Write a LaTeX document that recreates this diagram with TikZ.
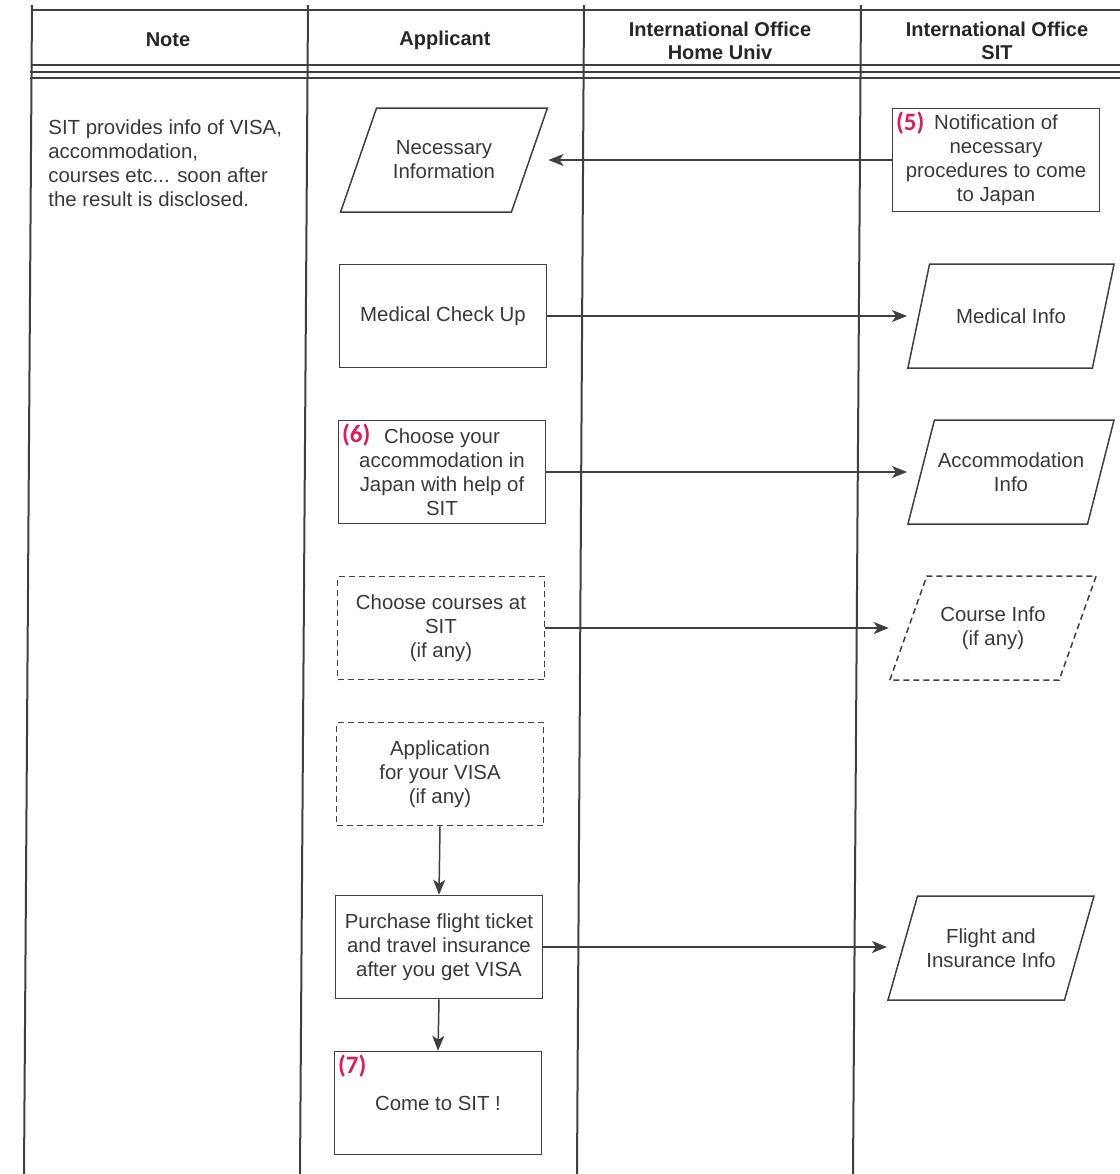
\documentclass[tikz,border=0pt]{standalone}
\usepackage{fontspec}
\setmainfont{Liberation Sans}
\newfontfamily\numfont{Carlito}
\usetikzlibrary{shapes.geometric,arrows.meta}
\definecolor{linegray}{HTML}{3F3F3F}
\definecolor{textgray}{HTML}{383838}
\definecolor{stepred}{HTML}{E0185C}

\begin{document}
\begin{tikzpicture}[x=0.5pt, y=-0.5pt,
    every node/.style={text=textgray, font=\fontsize{10.2}{12}\selectfont},
    lane/.style={draw=linegray, line width=1pt},
    proc/.style={draw=linegray, line width=0.75pt, rectangle, minimum width=103.5pt, minimum height=51.5pt, inner sep=1pt, align=center},
    data/.style={draw=linegray, line width=0.75pt, trapezium, trapezium left angle=68, trapezium right angle=112, trapezium stretches=true, minimum width=103.5pt, minimum height=52pt, inner xsep=-6pt, align=center},
    optional/.style={dash pattern=on 3pt off 2pt},
    steplabel/.style={anchor=north west, inner sep=2pt, text=stepred, font=\numfont\bfseries\fontsize{12.5}{12.5}\selectfont},
    flow/.style={draw=linegray, line width=0.75pt, -{Stealth[length=7.5pt,width=6pt,inset=2pt]}},
    head/.style={font=\bfseries\fontsize{10}{11.5}\selectfont, text=black!85, align=center}]
    \useasboundingbox (0,0) rectangle (1120,1174);
    \draw[lane] (32,10) -- (1120,10);
    \draw[lane, line width=0.6pt] (32,65) -- (1120,65);
    \draw[lane] (30,72) -- (1120,72);
    \draw[lane] (30,78) -- (1120,78);
    \foreach \xt/\xb in {32/24, 308/300, 584/577, 861/853}
        \draw[lane] (\xt,5) -- (\xb,1174);
    \node[head] (note) at (168,40) {Note};
    \node[head] (appl) at (445,40) {Applicant};
    \node[head] (home) at (720,41) {International Office\\Home Univ};
    \node[head] (sit) at (997,41) {International Office\\SIT};
    \node[anchor=north west, align=left, inner sep=0pt] (remark) at (48,119) {SIT provides info of VISA,\\accommodation,\\courses etc... soon after\\the result is disclosed.};
    \node[data] (necinfo) at (444,160) {Necessary\\Information};
    \node[proc, label={[steplabel]north west:(5)}] (notif) at (996,160) {Notification of\\necessary\\procedures to come\\to Japan};
    \node[proc] (medcheck) at (443,316) {Medical Check Up};
    \node[data] (medinfo) at (1011,316) {Medical Info};
    \node[proc, label={[steplabel]north west:(6)}] (accom) at (442,472) {Choose your\\accommodation in\\Japan with help of\\SIT};
    \node[data] (accinfo) at (1011,472) {Accommodation\\Info};
    \node[proc, optional] (courses) at (441,628) {Choose courses at\\SIT\\(if any)};
    \node[data, optional] (courseinfo) at (993,628) {Course Info\\(if any)};
    \node[proc, optional] (visa) at (440,774) {Application\\for your VISA\\(if any)};
    \node[proc] (ticket) at (439,947) {Purchase flight ticket\\and travel insurance\\after you get VISA};
    \node[data] (flightinfo) at (991,948) {Flight and\\Insurance Info};
    \node[proc, label={[steplabel]north west:(7)}] (come) at (438,1103) {Come to SIT !};
    \draw[flow] (notif.west) -- (notif.west -| necinfo.top right corner);
    \draw[flow] (medcheck.east) -- (medcheck.east -| medinfo.bottom left corner);
    \draw[flow] (accom.east) -- (accom.east -| accinfo.bottom left corner);
    \draw[flow] (courses.east) -- (courses.east -| courseinfo.bottom left corner);
    \draw[flow] (ticket.east) -- (ticket.east -| flightinfo.bottom left corner);
    \draw[flow] (visa.south) -- (ticket.north);
    \draw[flow] (ticket.south) -- (come.north);
\end{tikzpicture}
\end{document}
